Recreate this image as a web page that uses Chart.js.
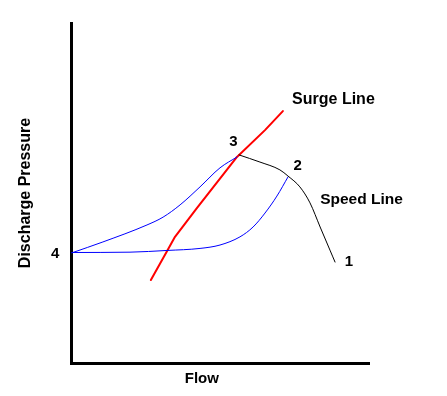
<!DOCTYPE html>
<html>
<head>
<meta charset="utf-8">
<script src="https://cdn.jsdelivr.net/npm/chart.js@4/dist/chart.umd.min.js"></script>
<style>
  html, body { margin: 0; padding: 0; background: #ffffff; }
  canvas { display: block; }
</style>
</head>
<body>
<canvas id="c" width="447" height="396"></canvas>
<script>
// Surge line (red)
const surgeX = [2.68, 3.22, 3.49, 4.23, 5.57, 6.51, 7.11];
const surgeY = [2.44, 3.29, 3.71, 4.56, 6.06, 6.85, 7.41];
// Upper blue curve (4 -> 3)
const upperX = [0.03, 1.07, 2.55, 3.09, 3.66, 4.33, 5.00, 5.57];
const upperY = [3.24, 3.56, 4.06, 4.29, 4.65, 5.18, 5.74, 6.06];
// Lower blue curve (4 -> 2)
const lowerX = [0.03, 1.98, 3.22, 4.33, 5.00, 5.67, 6.11, 6.51, 6.91, 7.28];
const lowerY = [3.25, 3.26, 3.31, 3.37, 3.47, 3.71, 4.00, 4.41, 4.91, 5.47];
// Speed line (black, 3 -> 2 -> 1)
const speedX = [5.64, 6.34, 7.01, 7.28, 7.68, 8.02, 8.36, 8.69, 8.86];
const speedY = [6.12, 5.91, 5.68, 5.50, 5.18, 4.71, 4.00, 3.32, 2.97];

// Text annotations (in data units)
const labelText = ["Surge Line", "Speed Line", "3", "2", "1", "4", "Flow"];
const labelX    = [7.42, 8.36, 5.45, 7.61, 9.33, -0.53, 4.39];
const labelY    = [7.76, 4.79, 6.49, 5.79, 2.98, 3.21, -0.46];
const labelAlign = ["left", "left", "center", "center", "center", "center", "center"];
const labelSize  = [16, 15.5, 15, 15, 15, 15, 15];

const xTitle = "Flow";
const yTitle = "Discharge Pressure";

function pts(xs, ys) { return xs.map((x, i) => ({ x: x, y: ys[i] })); }

const FONT = "'Liberation Sans', Arial, sans-serif";

const labelPlugin = {
  id: 'labels',
  afterDraw(chart) {
    const ctx = chart.ctx;
    const sx = chart.scales.x, sy = chart.scales.y;
    ctx.save();
    ctx.fillStyle = '#000';
    ctx.textBaseline = 'middle';
    labelText.forEach((t, i) => {
      ctx.font = 'bold ' + labelSize[i] + 'px ' + FONT;
      ctx.textAlign = labelAlign[i];
      ctx.fillText(t, sx.getPixelForValue(labelX[i]), sy.getPixelForValue(labelY[i]));
    });
    ctx.restore();
  }
};

const bgPlugin = {
  id: 'bg',
  beforeDraw(chart) {
    const ctx = chart.ctx;
    ctx.save();
    ctx.fillStyle = '#fff';
    ctx.fillRect(0, 0, chart.width, chart.height);
    ctx.restore();
  }
};

new Chart(document.getElementById('c'), {
  type: 'scatter',
  data: {
    datasets: [
      { label: 'Speed Line', data: pts(speedX, speedY), borderColor: '#000000', borderWidth: 1, cubicInterpolationMode: 'monotone' },
      { label: 'Upper', data: pts(upperX, upperY), borderColor: '#0000ff', borderWidth: 1, cubicInterpolationMode: 'monotone' },
      { label: 'Lower', data: pts(lowerX, lowerY), borderColor: '#0000ff', borderWidth: 1, cubicInterpolationMode: 'monotone' },
      { label: 'Surge Line', data: pts(surgeX, surgeY), borderColor: '#ff0000', borderWidth: 2 }
    ]
  },
  options: {
    responsive: false,
    animation: false,
    showLine: true,
    elements: {
      point: { radius: 0, hoverRadius: 0 },
      line: { tension: 0, fill: false, borderCapStyle: 'round', borderJoinStyle: 'round' }
    },
    layout: { padding: { top: 23, right: 78, bottom: 0, left: 16 } },
    plugins: {
      legend: { display: false },
      tooltip: { enabled: false },
      title: { display: false }
    },
    scales: {
      x: {
        type: 'linear', min: 0, max: 10,
        grid: { display: false },
        ticks: { display: false },
        border: { display: true, color: '#000', width: 3 },
        title: { display: false, text: xTitle },
        afterFit(scale) { scale.height = 33; }
      },
      y: {
        type: 'linear', min: 0, max: 10,
        grid: { display: false },
        ticks: { display: false },
        border: { display: true, color: '#000', width: 3 },
        title: { display: true, text: yTitle, color: '#000', padding: 0,
                 font: { family: FONT, size: 16, weight: 'bold' } },
        afterFit(scale) { scale.width = 55; }
      }
    }
  },
  plugins: [bgPlugin, labelPlugin]
});
</script>
</body>
</html>
